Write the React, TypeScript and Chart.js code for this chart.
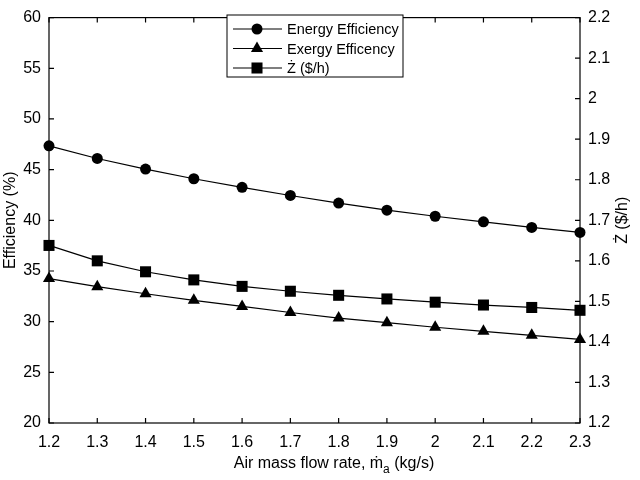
import React, { useEffect, useRef } from "react";
import { Chart, registerables } from "chart.js";
import { drawPoint } from "chart.js/helpers";

Chart.register(...registerables);

// Air mass flow rate (kg/s)
const airFlow = [1.2, 1.3, 1.4, 1.5, 1.6, 1.7, 1.8, 1.9, 2.0, 2.1, 2.2, 2.3];
// Efficiencies (%)
const energyEff = [47.35, 46.1, 45.05, 44.1, 43.25, 42.45, 41.7, 41.0, 40.4, 39.85, 39.3, 38.8];
const exergyEff = [34.25, 33.45, 32.75, 32.1, 31.5, 30.9, 30.35, 29.9, 29.45, 29.05, 28.65, 28.25];
// Cost rate Z ($/h)
const costRate = [1.638, 1.6, 1.573, 1.553, 1.537, 1.525, 1.515, 1.506, 1.498, 1.491, 1.485, 1.478];

const xTicks = [1.2, 1.3, 1.4, 1.5, 1.6, 1.7, 1.8, 1.9, 2.0, 2.1, 2.2, 2.3];
const effTicks = [20, 25, 30, 35, 40, 45, 50, 55, 60];
const costTicks = [1.2, 1.3, 1.4, 1.5, 1.6, 1.7, 1.8, 1.9, 2.0, 2.1, 2.2];

const legendItems = [
  { label: "Energy Efficiency", style: "circle", r: 5.5 },
  { label: "Exergy Efficency", style: "triangle", r: 7 },
  { label: "\u017B ($/h)", style: "rect", r: 7.8 },
];

const FONT = "'Liberation Sans', Arial, sans-serif";
const fmt = (v: number | string) => String(parseFloat(Number(v).toFixed(1)));

// box, inward ticks, titles and legend
const framePlugin = {
  id: "frame",
  afterDraw(chart: any) {
    const { ctx, chartArea: a, scales } = chart;
    const tl = 5;
    ctx.save();
    ctx.strokeStyle = "#000";
    ctx.lineWidth = 1.2;
    ctx.strokeRect(a.left, a.top, a.right - a.left, a.bottom - a.top);

    ctx.beginPath();
    xTicks.forEach((v) => {
      const x = scales.x.getPixelForValue(v);
      ctx.moveTo(x, a.bottom);
      ctx.lineTo(x, a.bottom - tl);
      ctx.moveTo(x, a.top);
      ctx.lineTo(x, a.top + tl);
    });
    effTicks.forEach((v) => {
      const y = scales.y.getPixelForValue(v);
      ctx.moveTo(a.left, y);
      ctx.lineTo(a.left + tl, y);
    });
    costTicks.forEach((v) => {
      const y = scales.y1.getPixelForValue(v);
      ctx.moveTo(a.right, y);
      ctx.lineTo(a.right - tl, y);
    });
    ctx.stroke();

    // axis titles
    ctx.fillStyle = "#000";
    ctx.font = `16px ${FONT}`;
    ctx.textBaseline = "middle";
    ctx.textAlign = "center";
    const midY = (a.top + a.bottom) / 2;
    ctx.save();
    ctx.translate(11, midY);
    ctx.rotate(-Math.PI / 2);
    ctx.fillText("Efficiency (%)", 0, 0);
    ctx.restore();
    ctx.save();
    ctx.translate(623, midY);
    ctx.rotate(-Math.PI / 2);
    ctx.fillText("\u017B ($/h)", 0, 0);
    ctx.restore();

    // x title with subscript
    ctx.textAlign = "left";
    ctx.textBaseline = "alphabetic";
    const part1 = "Air mass flow rate, \u1E41";
    const part2 = " (kg/s)";
    const base = 468;
    const w1 = ctx.measureText(part1).width;
    ctx.font = `12px ${FONT}`;
    const ws = ctx.measureText("a").width;
    ctx.font = `16px ${FONT}`;
    const w2 = ctx.measureText(part2).width;
    let x0 = 334 - (w1 + ws + w2) / 2;
    ctx.fillText(part1, x0, base);
    x0 += w1;
    ctx.font = `12px ${FONT}`;
    ctx.fillText("a", x0, base + 5);
    x0 += ws;
    ctx.font = `16px ${FONT}`;
    ctx.fillText(part2, x0, base);

    // legend
    const lx = 227, ly = 15, lw = 176, lh = 62;
    ctx.fillStyle = "#fff";
    ctx.fillRect(lx, ly, lw, lh);
    ctx.lineWidth = 1;
    ctx.strokeRect(lx, ly, lw, lh);
    ctx.font = `14.5px ${FONT}`;
    ctx.textBaseline = "middle";
    legendItems.forEach((it, i) => {
      const y = 29 + i * 19.5;
      ctx.strokeStyle = "#000";
      ctx.lineWidth = 1.2;
      ctx.beginPath();
      ctx.moveTo(233, y);
      ctx.lineTo(282, y);
      ctx.stroke();
      ctx.fillStyle = "#000";
      drawPoint(ctx, { pointStyle: it.style as any, radius: it.r, borderWidth: 0, rotation: 0 }, 257, y);
      ctx.fillText(it.label, 287, y + 1);
    });
    ctx.restore();
  },
};

export default function App() {
  const canvasRef = useRef<HTMLCanvasElement | null>(null);

  useEffect(() => {
    if (!canvasRef.current) return;
    const toXY = (ys: number[]) => ys.map((y, i) => ({ x: airFlow[i], y }));
    const common = {
      borderColor: "#000",
      backgroundColor: "#000",
      pointBackgroundColor: "#000",
      pointBorderColor: "#000",
      borderWidth: 1.2,
      pointBorderWidth: 0,
      clip: false as any,
    };
    const tickFont = { family: FONT, size: 16 };
    const chart = new Chart(canvasRef.current, {
      type: "line",
      data: {
        datasets: [
          { ...common, label: "Energy Efficiency", data: toXY(energyEff), yAxisID: "y", pointStyle: "circle", pointRadius: 5.5 },
          { ...common, label: "Exergy Efficency", data: toXY(exergyEff), yAxisID: "y", pointStyle: "triangle", pointRadius: 7 },
          { ...common, label: "\u017B ($/h)", data: toXY(costRate), yAxisID: "y1", pointStyle: "rect", pointRadius: 7.8 },
        ],
      },
      options: {
        responsive: false,
        animation: false,
        layout: { padding: { top: 5, left: 0, right: 0, bottom: 0 } },
        plugins: { legend: { display: false }, tooltip: { enabled: false } },
        scales: {
          x: {
            type: "linear",
            min: 1.2,
            max: 2.3,
            afterBuildTicks: (s: any) => { s.ticks = xTicks.map((value) => ({ value })); },
            afterFit: (s: any) => { s.height = 57; },
            grid: { display: false, drawTicks: false },
            border: { display: false },
            ticks: { color: "#000", padding: 10, font: tickFont, callback: (v: any) => fmt(v), maxRotation: 0, autoSkip: false },
          },
          y: {
            position: "left",
            min: 20,
            max: 60,
            afterBuildTicks: (s: any) => { s.ticks = effTicks.map((value) => ({ value })); },
            afterFit: (s: any) => { s.width = 49; },
            grid: { display: false, drawTicks: false },
            border: { display: false },
            ticks: { color: "#000", padding: 8, font: tickFont },
          },
          y1: {
            position: "right",
            min: 1.2,
            max: 2.2,
            afterBuildTicks: (s: any) => { s.ticks = costTicks.map((value) => ({ value })); },
            afterFit: (s: any) => { s.width = 60; },
            grid: { display: false, drawTicks: false },
            border: { display: false },
            ticks: { color: "#000", padding: 8, font: tickFont, callback: (v: any) => fmt(v) },
          },
        },
      },
      plugins: [framePlugin],
    });
    return () => chart.destroy();
  }, []);

  return (
    <div style={{ position: "absolute", left: 0, top: 0, width: 640, height: 480, background: "#fff" }}>
      <canvas ref={canvasRef} width={640} height={480} />
    </div>
  );
}
